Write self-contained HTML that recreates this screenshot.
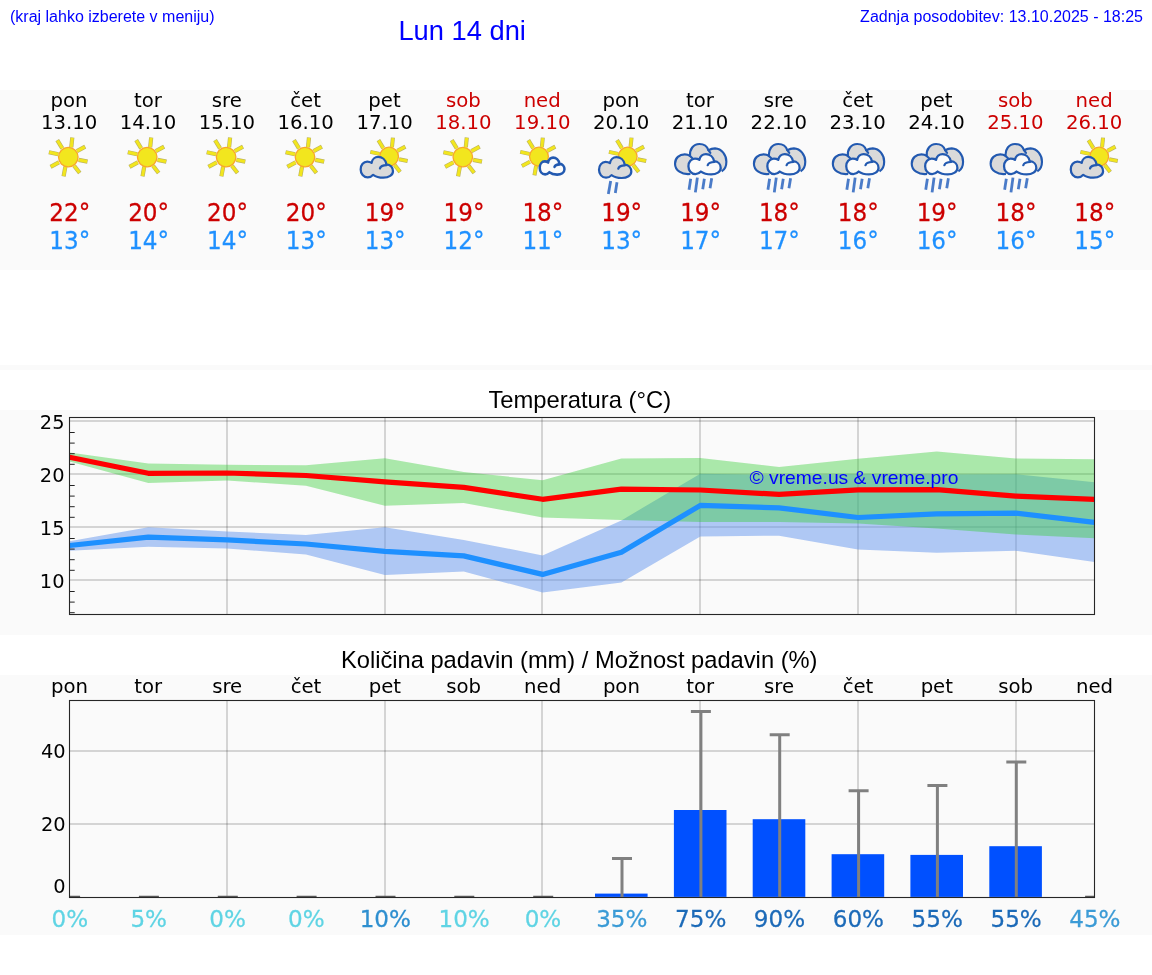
<!DOCTYPE html>
<html lang="sl"><head><meta charset="utf-8"><title>Lun 14 dni</title>
<style>
html,body{margin:0;padding:0;background:#fff;}
svg{display:block}
.dv{font-family:"DejaVu Sans","Liberation Sans",sans-serif;}
.ar{font-family:"Liberation Sans","DejaVu Sans",sans-serif;}
</style></head><body>
<svg width="1152" height="975" viewBox="0 0 1152 975">

<rect x="0" y="90" width="1152" height="180" fill="#fafafa"/>
<rect x="0" y="365" width="1152" height="5" fill="#fafafa"/>
<rect x="0" y="410" width="1152" height="225" fill="#fafafa"/>
<rect x="0" y="675" width="1152" height="260" fill="#fafafa"/>
<text class="ar" x="10" y="21.6" font-size="16" fill="#0000ff">(kraj lahko izberete v meniju)</text>
<text class="ar" x="462.2" y="39.9" font-size="27.3" fill="#0000ff" text-anchor="middle">Lun 14 dni</text>
<text class="ar" x="1143" y="21.6" font-size="16" fill="#0000ff" text-anchor="end">Zadnja posodobitev: 13.10.2025 - 18:25</text>
<text class="dv" x="69.1" y="106.5" font-size="19.7" fill="#000" text-anchor="middle">pon</text>
<text class="dv" x="69.2" y="128.7" font-size="19.7" fill="#000" text-anchor="middle">13.10</text>
<text class="dv" transform="translate(69.8,220.9) scale(1,1.04)" font-size="23.1" fill="#cc0000" stroke="#cc0000" stroke-width="0.25" text-anchor="middle">22°</text>
<text class="dv" transform="translate(69.8,248.8) scale(1,1.04)" font-size="23.1" fill="#1e90ff" stroke="#1e90ff" stroke-width="0.25" text-anchor="middle">13°</text>
<text class="dv" x="147.9" y="106.5" font-size="19.7" fill="#000" text-anchor="middle">tor</text>
<text class="dv" x="148.0" y="128.7" font-size="19.7" fill="#000" text-anchor="middle">14.10</text>
<text class="dv" transform="translate(148.6,220.9) scale(1,1.04)" font-size="23.1" fill="#cc0000" stroke="#cc0000" stroke-width="0.25" text-anchor="middle">20°</text>
<text class="dv" transform="translate(148.6,248.8) scale(1,1.04)" font-size="23.1" fill="#1e90ff" stroke="#1e90ff" stroke-width="0.25" text-anchor="middle">14°</text>
<text class="dv" x="226.8" y="106.5" font-size="19.7" fill="#000" text-anchor="middle">sre</text>
<text class="dv" x="226.9" y="128.7" font-size="19.7" fill="#000" text-anchor="middle">15.10</text>
<text class="dv" transform="translate(227.5,220.9) scale(1,1.04)" font-size="23.1" fill="#cc0000" stroke="#cc0000" stroke-width="0.25" text-anchor="middle">20°</text>
<text class="dv" transform="translate(227.5,248.8) scale(1,1.04)" font-size="23.1" fill="#1e90ff" stroke="#1e90ff" stroke-width="0.25" text-anchor="middle">14°</text>
<text class="dv" x="305.6" y="106.5" font-size="19.7" fill="#000" text-anchor="middle">čet</text>
<text class="dv" x="305.7" y="128.7" font-size="19.7" fill="#000" text-anchor="middle">16.10</text>
<text class="dv" transform="translate(306.3,220.9) scale(1,1.04)" font-size="23.1" fill="#cc0000" stroke="#cc0000" stroke-width="0.25" text-anchor="middle">20°</text>
<text class="dv" transform="translate(306.3,248.8) scale(1,1.04)" font-size="23.1" fill="#1e90ff" stroke="#1e90ff" stroke-width="0.25" text-anchor="middle">13°</text>
<text class="dv" x="384.5" y="106.5" font-size="19.7" fill="#000" text-anchor="middle">pet</text>
<text class="dv" x="384.6" y="128.7" font-size="19.7" fill="#000" text-anchor="middle">17.10</text>
<text class="dv" transform="translate(385.2,220.9) scale(1,1.04)" font-size="23.1" fill="#cc0000" stroke="#cc0000" stroke-width="0.25" text-anchor="middle">19°</text>
<text class="dv" transform="translate(385.2,248.8) scale(1,1.04)" font-size="23.1" fill="#1e90ff" stroke="#1e90ff" stroke-width="0.25" text-anchor="middle">13°</text>
<text class="dv" x="463.3" y="106.5" font-size="19.7" fill="#cc0000" text-anchor="middle">sob</text>
<text class="dv" x="463.4" y="128.7" font-size="19.7" fill="#cc0000" text-anchor="middle">18.10</text>
<text class="dv" transform="translate(464.0,220.9) scale(1,1.04)" font-size="23.1" fill="#cc0000" stroke="#cc0000" stroke-width="0.25" text-anchor="middle">19°</text>
<text class="dv" transform="translate(464.0,248.8) scale(1,1.04)" font-size="23.1" fill="#1e90ff" stroke="#1e90ff" stroke-width="0.25" text-anchor="middle">12°</text>
<text class="dv" x="542.2" y="106.5" font-size="19.7" fill="#cc0000" text-anchor="middle">ned</text>
<text class="dv" x="542.3" y="128.7" font-size="19.7" fill="#cc0000" text-anchor="middle">19.10</text>
<text class="dv" transform="translate(542.9,220.9) scale(1,1.04)" font-size="23.1" fill="#cc0000" stroke="#cc0000" stroke-width="0.25" text-anchor="middle">18°</text>
<text class="dv" transform="translate(542.9,248.8) scale(1,1.04)" font-size="23.1" fill="#1e90ff" stroke="#1e90ff" stroke-width="0.25" text-anchor="middle">11°</text>
<text class="dv" x="621.0" y="106.5" font-size="19.7" fill="#000" text-anchor="middle">pon</text>
<text class="dv" x="621.1" y="128.7" font-size="19.7" fill="#000" text-anchor="middle">20.10</text>
<text class="dv" transform="translate(621.7,220.9) scale(1,1.04)" font-size="23.1" fill="#cc0000" stroke="#cc0000" stroke-width="0.25" text-anchor="middle">19°</text>
<text class="dv" transform="translate(621.7,248.8) scale(1,1.04)" font-size="23.1" fill="#1e90ff" stroke="#1e90ff" stroke-width="0.25" text-anchor="middle">13°</text>
<text class="dv" x="699.9" y="106.5" font-size="19.7" fill="#000" text-anchor="middle">tor</text>
<text class="dv" x="700.0" y="128.7" font-size="19.7" fill="#000" text-anchor="middle">21.10</text>
<text class="dv" transform="translate(700.6,220.9) scale(1,1.04)" font-size="23.1" fill="#cc0000" stroke="#cc0000" stroke-width="0.25" text-anchor="middle">19°</text>
<text class="dv" transform="translate(700.6,248.8) scale(1,1.04)" font-size="23.1" fill="#1e90ff" stroke="#1e90ff" stroke-width="0.25" text-anchor="middle">17°</text>
<text class="dv" x="778.7" y="106.5" font-size="19.7" fill="#000" text-anchor="middle">sre</text>
<text class="dv" x="778.8" y="128.7" font-size="19.7" fill="#000" text-anchor="middle">22.10</text>
<text class="dv" transform="translate(779.4,220.9) scale(1,1.04)" font-size="23.1" fill="#cc0000" stroke="#cc0000" stroke-width="0.25" text-anchor="middle">18°</text>
<text class="dv" transform="translate(779.4,248.8) scale(1,1.04)" font-size="23.1" fill="#1e90ff" stroke="#1e90ff" stroke-width="0.25" text-anchor="middle">17°</text>
<text class="dv" x="857.6" y="106.5" font-size="19.7" fill="#000" text-anchor="middle">čet</text>
<text class="dv" x="857.7" y="128.7" font-size="19.7" fill="#000" text-anchor="middle">23.10</text>
<text class="dv" transform="translate(858.3,220.9) scale(1,1.04)" font-size="23.1" fill="#cc0000" stroke="#cc0000" stroke-width="0.25" text-anchor="middle">18°</text>
<text class="dv" transform="translate(858.3,248.8) scale(1,1.04)" font-size="23.1" fill="#1e90ff" stroke="#1e90ff" stroke-width="0.25" text-anchor="middle">16°</text>
<text class="dv" x="936.4" y="106.5" font-size="19.7" fill="#000" text-anchor="middle">pet</text>
<text class="dv" x="936.5" y="128.7" font-size="19.7" fill="#000" text-anchor="middle">24.10</text>
<text class="dv" transform="translate(937.1,220.9) scale(1,1.04)" font-size="23.1" fill="#cc0000" stroke="#cc0000" stroke-width="0.25" text-anchor="middle">19°</text>
<text class="dv" transform="translate(937.1,248.8) scale(1,1.04)" font-size="23.1" fill="#1e90ff" stroke="#1e90ff" stroke-width="0.25" text-anchor="middle">16°</text>
<text class="dv" x="1015.3" y="106.5" font-size="19.7" fill="#cc0000" text-anchor="middle">sob</text>
<text class="dv" x="1015.4" y="128.7" font-size="19.7" fill="#cc0000" text-anchor="middle">25.10</text>
<text class="dv" transform="translate(1016.0,220.9) scale(1,1.04)" font-size="23.1" fill="#cc0000" stroke="#cc0000" stroke-width="0.25" text-anchor="middle">18°</text>
<text class="dv" transform="translate(1016.0,248.8) scale(1,1.04)" font-size="23.1" fill="#1e90ff" stroke="#1e90ff" stroke-width="0.25" text-anchor="middle">16°</text>
<text class="dv" x="1094.1" y="106.5" font-size="19.7" fill="#cc0000" text-anchor="middle">ned</text>
<text class="dv" x="1094.2" y="128.7" font-size="19.7" fill="#cc0000" text-anchor="middle">26.10</text>
<text class="dv" transform="translate(1094.8,220.9) scale(1,1.04)" font-size="23.1" fill="#cc0000" stroke="#cc0000" stroke-width="0.25" text-anchor="middle">18°</text>
<text class="dv" transform="translate(1094.8,248.8) scale(1,1.04)" font-size="23.1" fill="#1e90ff" stroke="#1e90ff" stroke-width="0.25" text-anchor="middle">15°</text>
<g transform="translate(68.30,157.07) scale(1.0)"><path d="M2.99,-9.87 L3.99,-19.62" stroke="#b9b162" stroke-width="4.2" fill="none"/><path d="M2.99,-9.87 L3.95,-19.18" stroke="#f2e61e" stroke-width="3.0" fill="none"/><path d="M8.63,-5.92 L16.92,-10.36" stroke="#b9b162" stroke-width="4.2" fill="none"/><path d="M8.63,-5.92 L16.53,-10.15" stroke="#f2e61e" stroke-width="3.0" fill="none"/><path d="M10.32,2.82 L19.22,4.60" stroke="#b9b162" stroke-width="4.2" fill="none"/><path d="M10.32,2.82 L18.78,4.51" stroke="#f2e61e" stroke-width="3.0" fill="none"/><path d="M5.81,8.74 L11.45,15.86" stroke="#b9b162" stroke-width="4.2" fill="none"/><path d="M5.81,8.74 L11.17,15.51" stroke="#f2e61e" stroke-width="3.0" fill="none"/><path d="M-2.93,9.59 L-4.71,19.34" stroke="#b9b162" stroke-width="4.2" fill="none"/><path d="M-2.93,9.59 L-4.62,18.89" stroke="#f2e61e" stroke-width="3.0" fill="none"/><path d="M-9.42,5.36 L-17.71,9.80" stroke="#b9b162" stroke-width="4.2" fill="none"/><path d="M-9.42,5.36 L-17.32,9.59" stroke="#f2e61e" stroke-width="3.0" fill="none"/><path d="M-9.98,-2.82 L-19.45,-4.89" stroke="#b9b162" stroke-width="4.2" fill="none"/><path d="M-9.98,-2.82 L-19.01,-4.79" stroke="#f2e61e" stroke-width="3.0" fill="none"/><path d="M-6.03,-8.74 L-11.06,-17.02" stroke="#b9b162" stroke-width="4.2" fill="none"/><path d="M-6.03,-8.74 L-10.83,-16.64" stroke="#f2e61e" stroke-width="3.0" fill="none"/><circle r="9.75" fill="#f2e61e" stroke="#f8a72a" stroke-width="1.3"/></g>
<g transform="translate(147.20,157.07) scale(1.0)"><path d="M2.99,-9.87 L3.99,-19.62" stroke="#b9b162" stroke-width="4.2" fill="none"/><path d="M2.99,-9.87 L3.95,-19.18" stroke="#f2e61e" stroke-width="3.0" fill="none"/><path d="M8.63,-5.92 L16.92,-10.36" stroke="#b9b162" stroke-width="4.2" fill="none"/><path d="M8.63,-5.92 L16.53,-10.15" stroke="#f2e61e" stroke-width="3.0" fill="none"/><path d="M10.32,2.82 L19.22,4.60" stroke="#b9b162" stroke-width="4.2" fill="none"/><path d="M10.32,2.82 L18.78,4.51" stroke="#f2e61e" stroke-width="3.0" fill="none"/><path d="M5.81,8.74 L11.45,15.86" stroke="#b9b162" stroke-width="4.2" fill="none"/><path d="M5.81,8.74 L11.17,15.51" stroke="#f2e61e" stroke-width="3.0" fill="none"/><path d="M-2.93,9.59 L-4.71,19.34" stroke="#b9b162" stroke-width="4.2" fill="none"/><path d="M-2.93,9.59 L-4.62,18.89" stroke="#f2e61e" stroke-width="3.0" fill="none"/><path d="M-9.42,5.36 L-17.71,9.80" stroke="#b9b162" stroke-width="4.2" fill="none"/><path d="M-9.42,5.36 L-17.32,9.59" stroke="#f2e61e" stroke-width="3.0" fill="none"/><path d="M-9.98,-2.82 L-19.45,-4.89" stroke="#b9b162" stroke-width="4.2" fill="none"/><path d="M-9.98,-2.82 L-19.01,-4.79" stroke="#f2e61e" stroke-width="3.0" fill="none"/><path d="M-6.03,-8.74 L-11.06,-17.02" stroke="#b9b162" stroke-width="4.2" fill="none"/><path d="M-6.03,-8.74 L-10.83,-16.64" stroke="#f2e61e" stroke-width="3.0" fill="none"/><circle r="9.75" fill="#f2e61e" stroke="#f8a72a" stroke-width="1.3"/></g>
<g transform="translate(226.10,157.07) scale(1.0)"><path d="M2.99,-9.87 L3.99,-19.62" stroke="#b9b162" stroke-width="4.2" fill="none"/><path d="M2.99,-9.87 L3.95,-19.18" stroke="#f2e61e" stroke-width="3.0" fill="none"/><path d="M8.63,-5.92 L16.92,-10.36" stroke="#b9b162" stroke-width="4.2" fill="none"/><path d="M8.63,-5.92 L16.53,-10.15" stroke="#f2e61e" stroke-width="3.0" fill="none"/><path d="M10.32,2.82 L19.22,4.60" stroke="#b9b162" stroke-width="4.2" fill="none"/><path d="M10.32,2.82 L18.78,4.51" stroke="#f2e61e" stroke-width="3.0" fill="none"/><path d="M5.81,8.74 L11.45,15.86" stroke="#b9b162" stroke-width="4.2" fill="none"/><path d="M5.81,8.74 L11.17,15.51" stroke="#f2e61e" stroke-width="3.0" fill="none"/><path d="M-2.93,9.59 L-4.71,19.34" stroke="#b9b162" stroke-width="4.2" fill="none"/><path d="M-2.93,9.59 L-4.62,18.89" stroke="#f2e61e" stroke-width="3.0" fill="none"/><path d="M-9.42,5.36 L-17.71,9.80" stroke="#b9b162" stroke-width="4.2" fill="none"/><path d="M-9.42,5.36 L-17.32,9.59" stroke="#f2e61e" stroke-width="3.0" fill="none"/><path d="M-9.98,-2.82 L-19.45,-4.89" stroke="#b9b162" stroke-width="4.2" fill="none"/><path d="M-9.98,-2.82 L-19.01,-4.79" stroke="#f2e61e" stroke-width="3.0" fill="none"/><path d="M-6.03,-8.74 L-11.06,-17.02" stroke="#b9b162" stroke-width="4.2" fill="none"/><path d="M-6.03,-8.74 L-10.83,-16.64" stroke="#f2e61e" stroke-width="3.0" fill="none"/><circle r="9.75" fill="#f2e61e" stroke="#f8a72a" stroke-width="1.3"/></g>
<g transform="translate(305.00,157.07) scale(1.0)"><path d="M2.99,-9.87 L3.99,-19.62" stroke="#b9b162" stroke-width="4.2" fill="none"/><path d="M2.99,-9.87 L3.95,-19.18" stroke="#f2e61e" stroke-width="3.0" fill="none"/><path d="M8.63,-5.92 L16.92,-10.36" stroke="#b9b162" stroke-width="4.2" fill="none"/><path d="M8.63,-5.92 L16.53,-10.15" stroke="#f2e61e" stroke-width="3.0" fill="none"/><path d="M10.32,2.82 L19.22,4.60" stroke="#b9b162" stroke-width="4.2" fill="none"/><path d="M10.32,2.82 L18.78,4.51" stroke="#f2e61e" stroke-width="3.0" fill="none"/><path d="M5.81,8.74 L11.45,15.86" stroke="#b9b162" stroke-width="4.2" fill="none"/><path d="M5.81,8.74 L11.17,15.51" stroke="#f2e61e" stroke-width="3.0" fill="none"/><path d="M-2.93,9.59 L-4.71,19.34" stroke="#b9b162" stroke-width="4.2" fill="none"/><path d="M-2.93,9.59 L-4.62,18.89" stroke="#f2e61e" stroke-width="3.0" fill="none"/><path d="M-9.42,5.36 L-17.71,9.80" stroke="#b9b162" stroke-width="4.2" fill="none"/><path d="M-9.42,5.36 L-17.32,9.59" stroke="#f2e61e" stroke-width="3.0" fill="none"/><path d="M-9.98,-2.82 L-19.45,-4.89" stroke="#b9b162" stroke-width="4.2" fill="none"/><path d="M-9.98,-2.82 L-19.01,-4.79" stroke="#f2e61e" stroke-width="3.0" fill="none"/><path d="M-6.03,-8.74 L-11.06,-17.02" stroke="#b9b162" stroke-width="4.2" fill="none"/><path d="M-6.03,-8.74 L-10.83,-16.64" stroke="#f2e61e" stroke-width="3.0" fill="none"/><circle r="9.75" fill="#f2e61e" stroke="#f8a72a" stroke-width="1.3"/></g>
<g transform="translate(389.08,156.60) scale(0.965)"><path d="M2.99,-9.87 L3.99,-19.62" stroke="#b9b162" stroke-width="4.2" fill="none"/><path d="M2.99,-9.87 L3.95,-19.18" stroke="#f2e61e" stroke-width="3.0" fill="none"/><path d="M8.63,-5.92 L16.92,-10.36" stroke="#b9b162" stroke-width="4.2" fill="none"/><path d="M8.63,-5.92 L16.53,-10.15" stroke="#f2e61e" stroke-width="3.0" fill="none"/><path d="M10.32,2.82 L19.22,4.60" stroke="#b9b162" stroke-width="4.2" fill="none"/><path d="M10.32,2.82 L18.78,4.51" stroke="#f2e61e" stroke-width="3.0" fill="none"/><path d="M5.81,8.74 L11.45,15.86" stroke="#b9b162" stroke-width="4.2" fill="none"/><path d="M5.81,8.74 L11.17,15.51" stroke="#f2e61e" stroke-width="3.0" fill="none"/><path d="M-2.93,9.59 L-4.71,19.34" stroke="#b9b162" stroke-width="4.2" fill="none"/><path d="M-2.93,9.59 L-4.62,18.89" stroke="#f2e61e" stroke-width="3.0" fill="none"/><path d="M-9.42,5.36 L-17.71,9.80" stroke="#b9b162" stroke-width="4.2" fill="none"/><path d="M-9.42,5.36 L-17.32,9.59" stroke="#f2e61e" stroke-width="3.0" fill="none"/><path d="M-9.98,-2.82 L-19.45,-4.89" stroke="#b9b162" stroke-width="4.2" fill="none"/><path d="M-9.98,-2.82 L-19.01,-4.79" stroke="#f2e61e" stroke-width="3.0" fill="none"/><path d="M-6.03,-8.74 L-11.06,-17.02" stroke="#b9b162" stroke-width="4.2" fill="none"/><path d="M-6.03,-8.74 L-10.83,-16.64" stroke="#f2e61e" stroke-width="3.0" fill="none"/><circle r="9.75" fill="#f2e61e" stroke="#f8a72a" stroke-width="1.3"/></g>
<g transform="translate(360.68,177.71) scale(0.05208,0.05208) translate(-110,-820)"><path d="M350,765 C320,800 280,815 245,815 C165,815 110,745 110,660 C110,575 165,510 235,510 C270,510 300,520 320,535 C330,465 385,420 445,420 C520,420 588,475 603,562 C685,568 730,630 730,695 C730,770 650,820 545,820 C460,820 390,795 350,765 Z" fill="#dadada" stroke="#2259b0" stroke-width="43.2" stroke-linejoin="round"/><path d="M480,640 C490,605 540,578 610,577" fill="none" stroke="#2259b0" stroke-width="43.2" stroke-linecap="round"/></g>
<g transform="translate(462.80,157.07) scale(1.0)"><path d="M2.99,-9.87 L3.99,-19.62" stroke="#b9b162" stroke-width="4.2" fill="none"/><path d="M2.99,-9.87 L3.95,-19.18" stroke="#f2e61e" stroke-width="3.0" fill="none"/><path d="M8.63,-5.92 L16.92,-10.36" stroke="#b9b162" stroke-width="4.2" fill="none"/><path d="M8.63,-5.92 L16.53,-10.15" stroke="#f2e61e" stroke-width="3.0" fill="none"/><path d="M10.32,2.82 L19.22,4.60" stroke="#b9b162" stroke-width="4.2" fill="none"/><path d="M10.32,2.82 L18.78,4.51" stroke="#f2e61e" stroke-width="3.0" fill="none"/><path d="M5.81,8.74 L11.45,15.86" stroke="#b9b162" stroke-width="4.2" fill="none"/><path d="M5.81,8.74 L11.17,15.51" stroke="#f2e61e" stroke-width="3.0" fill="none"/><path d="M-2.93,9.59 L-4.71,19.34" stroke="#b9b162" stroke-width="4.2" fill="none"/><path d="M-2.93,9.59 L-4.62,18.89" stroke="#f2e61e" stroke-width="3.0" fill="none"/><path d="M-9.42,5.36 L-17.71,9.80" stroke="#b9b162" stroke-width="4.2" fill="none"/><path d="M-9.42,5.36 L-17.32,9.59" stroke="#f2e61e" stroke-width="3.0" fill="none"/><path d="M-9.98,-2.82 L-19.45,-4.89" stroke="#b9b162" stroke-width="4.2" fill="none"/><path d="M-9.98,-2.82 L-19.01,-4.79" stroke="#f2e61e" stroke-width="3.0" fill="none"/><path d="M-6.03,-8.74 L-11.06,-17.02" stroke="#b9b162" stroke-width="4.2" fill="none"/><path d="M-6.03,-8.74 L-10.83,-16.64" stroke="#f2e61e" stroke-width="3.0" fill="none"/><circle r="9.75" fill="#f2e61e" stroke="#f8a72a" stroke-width="1.3"/></g>
<g transform="translate(538.98,156.60) scale(0.965)"><path d="M2.99,-9.87 L3.99,-19.62" stroke="#b9b162" stroke-width="4.2" fill="none"/><path d="M2.99,-9.87 L3.95,-19.18" stroke="#f2e61e" stroke-width="3.0" fill="none"/><path d="M8.63,-5.92 L16.92,-10.36" stroke="#b9b162" stroke-width="4.2" fill="none"/><path d="M8.63,-5.92 L16.53,-10.15" stroke="#f2e61e" stroke-width="3.0" fill="none"/><path d="M10.32,2.82 L19.22,4.60" stroke="#b9b162" stroke-width="4.2" fill="none"/><path d="M10.32,2.82 L18.78,4.51" stroke="#f2e61e" stroke-width="3.0" fill="none"/><path d="M5.81,8.74 L11.45,15.86" stroke="#b9b162" stroke-width="4.2" fill="none"/><path d="M5.81,8.74 L11.17,15.51" stroke="#f2e61e" stroke-width="3.0" fill="none"/><path d="M-2.93,9.59 L-4.71,19.34" stroke="#b9b162" stroke-width="4.2" fill="none"/><path d="M-2.93,9.59 L-4.62,18.89" stroke="#f2e61e" stroke-width="3.0" fill="none"/><path d="M-9.42,5.36 L-17.71,9.80" stroke="#b9b162" stroke-width="4.2" fill="none"/><path d="M-9.42,5.36 L-17.32,9.59" stroke="#f2e61e" stroke-width="3.0" fill="none"/><path d="M-9.98,-2.82 L-19.45,-4.89" stroke="#b9b162" stroke-width="4.2" fill="none"/><path d="M-9.98,-2.82 L-19.01,-4.79" stroke="#f2e61e" stroke-width="3.0" fill="none"/><path d="M-6.03,-8.74 L-11.06,-17.02" stroke="#b9b162" stroke-width="4.2" fill="none"/><path d="M-6.03,-8.74 L-10.83,-16.64" stroke="#f2e61e" stroke-width="3.0" fill="none"/><circle r="9.75" fill="#f2e61e" stroke="#f8a72a" stroke-width="1.3"/></g>
<g transform="translate(539.74,174.58) scale(0.03990,0.04232) translate(-110,-820)"><path d="M350,765 C320,800 280,815 245,815 C165,815 110,745 110,660 C110,575 165,510 235,510 C270,510 300,520 320,535 C330,465 385,420 445,420 C520,420 588,475 603,562 C685,568 730,630 730,695 C730,770 650,820 545,820 C460,820 390,795 350,765 Z" fill="#fbfbfb" stroke="#2259b0" stroke-width="63.2" stroke-linejoin="round"/><path d="M480,640 C490,605 540,578 610,577" fill="none" stroke="#2259b0" stroke-width="63.2" stroke-linecap="round"/></g>
<g transform="translate(627.67,156.60) scale(0.965)"><path d="M2.99,-9.87 L3.99,-19.62" stroke="#b9b162" stroke-width="4.2" fill="none"/><path d="M2.99,-9.87 L3.95,-19.18" stroke="#f2e61e" stroke-width="3.0" fill="none"/><path d="M8.63,-5.92 L16.92,-10.36" stroke="#b9b162" stroke-width="4.2" fill="none"/><path d="M8.63,-5.92 L16.53,-10.15" stroke="#f2e61e" stroke-width="3.0" fill="none"/><path d="M10.32,2.82 L19.22,4.60" stroke="#b9b162" stroke-width="4.2" fill="none"/><path d="M10.32,2.82 L18.78,4.51" stroke="#f2e61e" stroke-width="3.0" fill="none"/><path d="M5.81,8.74 L11.45,15.86" stroke="#b9b162" stroke-width="4.2" fill="none"/><path d="M5.81,8.74 L11.17,15.51" stroke="#f2e61e" stroke-width="3.0" fill="none"/><path d="M-2.93,9.59 L-4.71,19.34" stroke="#b9b162" stroke-width="4.2" fill="none"/><path d="M-2.93,9.59 L-4.62,18.89" stroke="#f2e61e" stroke-width="3.0" fill="none"/><path d="M-9.42,5.36 L-17.71,9.80" stroke="#b9b162" stroke-width="4.2" fill="none"/><path d="M-9.42,5.36 L-17.32,9.59" stroke="#f2e61e" stroke-width="3.0" fill="none"/><path d="M-9.98,-2.82 L-19.45,-4.89" stroke="#b9b162" stroke-width="4.2" fill="none"/><path d="M-9.98,-2.82 L-19.01,-4.79" stroke="#f2e61e" stroke-width="3.0" fill="none"/><path d="M-6.03,-8.74 L-11.06,-17.02" stroke="#b9b162" stroke-width="4.2" fill="none"/><path d="M-6.03,-8.74 L-10.83,-16.64" stroke="#f2e61e" stroke-width="3.0" fill="none"/><circle r="9.75" fill="#f2e61e" stroke="#f8a72a" stroke-width="1.3"/></g>
<g transform="translate(599.02,178.00) scale(0.05208,0.05208) translate(-110,-820)"><path d="M350,765 C320,800 280,815 245,815 C165,815 110,745 110,660 C110,575 165,510 235,510 C270,510 300,520 320,535 C330,465 385,420 445,420 C520,420 588,475 603,562 C685,568 730,630 730,695 C730,770 650,820 545,820 C460,820 390,795 350,765 Z" fill="#dadada" stroke="#2259b0" stroke-width="43.2" stroke-linejoin="round"/><path d="M480,640 C490,605 540,578 610,577" fill="none" stroke="#2259b0" stroke-width="43.2" stroke-linecap="round"/></g>
<path d="M610.67,181.00 L608.34,194.00" stroke="#4a7bc8" stroke-width="2.8" fill="none"/><path d="M617.00,182.33 L615.34,193.00" stroke="#4a7bc8" stroke-width="2.8" fill="none"/>
<g transform="translate(668.37,135) scale(0.06667)"><path d="M330,585 C200,600 100,530 100,430 C100,345 165,290 245,290 C280,290 305,300 325,315 C315,215 375,135 465,135 C530,135 580,165 600,228 C640,205 680,200 700,200 C800,205 870,300 870,400 C870,470 840,520 800,545" fill="#dadada" stroke="#2259b0" stroke-width="32" stroke-linejoin="round"/><path d="M325,315 L368,355 M600,228 L630,268" fill="none" stroke="#2259b0" stroke-width="32" stroke-linecap="round"/></g><g transform="translate(688.44,174.33) scale(0.05208,0.05078) translate(-110,-820)"><path d="M350,765 C320,800 280,815 245,815 C165,815 110,745 110,660 C110,575 165,510 235,510 C270,510 300,520 320,535 C330,465 385,420 445,420 C520,420 588,475 603,562 C685,568 730,630 730,695 C730,770 650,820 545,820 C460,820 390,795 350,765 Z" fill="#fbfbfb" stroke="#2259b0" stroke-width="43.7" stroke-linejoin="round"/><path d="M480,640 C490,605 540,578 610,577" fill="none" stroke="#2259b0" stroke-width="43.7" stroke-linecap="round"/></g><path d="M690.70,178.67 L689.04,189.67" stroke="#4a7bc8" stroke-width="2.8" fill="none"/><path d="M697.37,177.67 L695.37,192.33" stroke="#4a7bc8" stroke-width="2.8" fill="none"/><path d="M704.37,178.67 L702.70,189.33" stroke="#4a7bc8" stroke-width="2.8" fill="none"/><path d="M711.70,178.33 L710.04,188.33" stroke="#4a7bc8" stroke-width="2.8" fill="none"/>
<g transform="translate(747.27,135) scale(0.06667)"><path d="M330,585 C200,600 100,530 100,430 C100,345 165,290 245,290 C280,290 305,300 325,315 C315,215 375,135 465,135 C530,135 580,165 600,228 C640,205 680,200 700,200 C800,205 870,300 870,400 C870,470 840,520 800,545" fill="#dadada" stroke="#2259b0" stroke-width="32" stroke-linejoin="round"/><path d="M325,315 L368,355 M600,228 L630,268" fill="none" stroke="#2259b0" stroke-width="32" stroke-linecap="round"/></g><g transform="translate(767.34,174.33) scale(0.05208,0.05078) translate(-110,-820)"><path d="M350,765 C320,800 280,815 245,815 C165,815 110,745 110,660 C110,575 165,510 235,510 C270,510 300,520 320,535 C330,465 385,420 445,420 C520,420 588,475 603,562 C685,568 730,630 730,695 C730,770 650,820 545,820 C460,820 390,795 350,765 Z" fill="#fbfbfb" stroke="#2259b0" stroke-width="43.7" stroke-linejoin="round"/><path d="M480,640 C490,605 540,578 610,577" fill="none" stroke="#2259b0" stroke-width="43.7" stroke-linecap="round"/></g><path d="M769.60,178.67 L767.94,189.67" stroke="#4a7bc8" stroke-width="2.8" fill="none"/><path d="M776.27,177.67 L774.27,192.33" stroke="#4a7bc8" stroke-width="2.8" fill="none"/><path d="M783.27,178.67 L781.60,189.33" stroke="#4a7bc8" stroke-width="2.8" fill="none"/><path d="M790.60,178.33 L788.94,188.33" stroke="#4a7bc8" stroke-width="2.8" fill="none"/>
<g transform="translate(826.17,135) scale(0.06667)"><path d="M330,585 C200,600 100,530 100,430 C100,345 165,290 245,290 C280,290 305,300 325,315 C315,215 375,135 465,135 C530,135 580,165 600,228 C640,205 680,200 700,200 C800,205 870,300 870,400 C870,470 840,520 800,545" fill="#dadada" stroke="#2259b0" stroke-width="32" stroke-linejoin="round"/><path d="M325,315 L368,355 M600,228 L630,268" fill="none" stroke="#2259b0" stroke-width="32" stroke-linecap="round"/></g><g transform="translate(846.24,174.33) scale(0.05208,0.05078) translate(-110,-820)"><path d="M350,765 C320,800 280,815 245,815 C165,815 110,745 110,660 C110,575 165,510 235,510 C270,510 300,520 320,535 C330,465 385,420 445,420 C520,420 588,475 603,562 C685,568 730,630 730,695 C730,770 650,820 545,820 C460,820 390,795 350,765 Z" fill="#fbfbfb" stroke="#2259b0" stroke-width="43.7" stroke-linejoin="round"/><path d="M480,640 C490,605 540,578 610,577" fill="none" stroke="#2259b0" stroke-width="43.7" stroke-linecap="round"/></g><path d="M848.50,178.67 L846.84,189.67" stroke="#4a7bc8" stroke-width="2.8" fill="none"/><path d="M855.17,177.67 L853.17,192.33" stroke="#4a7bc8" stroke-width="2.8" fill="none"/><path d="M862.17,178.67 L860.50,189.33" stroke="#4a7bc8" stroke-width="2.8" fill="none"/><path d="M869.50,178.33 L867.84,188.33" stroke="#4a7bc8" stroke-width="2.8" fill="none"/>
<g transform="translate(905.07,135) scale(0.06667)"><path d="M330,585 C200,600 100,530 100,430 C100,345 165,290 245,290 C280,290 305,300 325,315 C315,215 375,135 465,135 C530,135 580,165 600,228 C640,205 680,200 700,200 C800,205 870,300 870,400 C870,470 840,520 800,545" fill="#dadada" stroke="#2259b0" stroke-width="32" stroke-linejoin="round"/><path d="M325,315 L368,355 M600,228 L630,268" fill="none" stroke="#2259b0" stroke-width="32" stroke-linecap="round"/></g><g transform="translate(925.14,174.33) scale(0.05208,0.05078) translate(-110,-820)"><path d="M350,765 C320,800 280,815 245,815 C165,815 110,745 110,660 C110,575 165,510 235,510 C270,510 300,520 320,535 C330,465 385,420 445,420 C520,420 588,475 603,562 C685,568 730,630 730,695 C730,770 650,820 545,820 C460,820 390,795 350,765 Z" fill="#fbfbfb" stroke="#2259b0" stroke-width="43.7" stroke-linejoin="round"/><path d="M480,640 C490,605 540,578 610,577" fill="none" stroke="#2259b0" stroke-width="43.7" stroke-linecap="round"/></g><path d="M927.40,178.67 L925.74,189.67" stroke="#4a7bc8" stroke-width="2.8" fill="none"/><path d="M934.07,177.67 L932.07,192.33" stroke="#4a7bc8" stroke-width="2.8" fill="none"/><path d="M941.07,178.67 L939.40,189.33" stroke="#4a7bc8" stroke-width="2.8" fill="none"/><path d="M948.40,178.33 L946.74,188.33" stroke="#4a7bc8" stroke-width="2.8" fill="none"/>
<g transform="translate(983.97,135) scale(0.06667)"><path d="M330,585 C200,600 100,530 100,430 C100,345 165,290 245,290 C280,290 305,300 325,315 C315,215 375,135 465,135 C530,135 580,165 600,228 C640,205 680,200 700,200 C800,205 870,300 870,400 C870,470 840,520 800,545" fill="#dadada" stroke="#2259b0" stroke-width="32" stroke-linejoin="round"/><path d="M325,315 L368,355 M600,228 L630,268" fill="none" stroke="#2259b0" stroke-width="32" stroke-linecap="round"/></g><g transform="translate(1004.04,174.33) scale(0.05208,0.05078) translate(-110,-820)"><path d="M350,765 C320,800 280,815 245,815 C165,815 110,745 110,660 C110,575 165,510 235,510 C270,510 300,520 320,535 C330,465 385,420 445,420 C520,420 588,475 603,562 C685,568 730,630 730,695 C730,770 650,820 545,820 C460,820 390,795 350,765 Z" fill="#fbfbfb" stroke="#2259b0" stroke-width="43.7" stroke-linejoin="round"/><path d="M480,640 C490,605 540,578 610,577" fill="none" stroke="#2259b0" stroke-width="43.7" stroke-linecap="round"/></g><path d="M1006.30,178.67 L1004.64,189.67" stroke="#4a7bc8" stroke-width="2.8" fill="none"/><path d="M1012.97,177.67 L1010.97,192.33" stroke="#4a7bc8" stroke-width="2.8" fill="none"/><path d="M1019.97,178.67 L1018.30,189.33" stroke="#4a7bc8" stroke-width="2.8" fill="none"/><path d="M1027.30,178.33 L1025.64,188.33" stroke="#4a7bc8" stroke-width="2.8" fill="none"/>
<g transform="translate(1099.19,156.60) scale(0.965)"><path d="M2.99,-9.87 L3.99,-19.62" stroke="#b9b162" stroke-width="4.2" fill="none"/><path d="M2.99,-9.87 L3.95,-19.18" stroke="#f2e61e" stroke-width="3.0" fill="none"/><path d="M8.63,-5.92 L16.92,-10.36" stroke="#b9b162" stroke-width="4.2" fill="none"/><path d="M8.63,-5.92 L16.53,-10.15" stroke="#f2e61e" stroke-width="3.0" fill="none"/><path d="M10.32,2.82 L19.22,4.60" stroke="#b9b162" stroke-width="4.2" fill="none"/><path d="M10.32,2.82 L18.78,4.51" stroke="#f2e61e" stroke-width="3.0" fill="none"/><path d="M5.81,8.74 L11.45,15.86" stroke="#b9b162" stroke-width="4.2" fill="none"/><path d="M5.81,8.74 L11.17,15.51" stroke="#f2e61e" stroke-width="3.0" fill="none"/><path d="M-2.93,9.59 L-4.71,19.34" stroke="#b9b162" stroke-width="4.2" fill="none"/><path d="M-2.93,9.59 L-4.62,18.89" stroke="#f2e61e" stroke-width="3.0" fill="none"/><path d="M-9.42,5.36 L-17.71,9.80" stroke="#b9b162" stroke-width="4.2" fill="none"/><path d="M-9.42,5.36 L-17.32,9.59" stroke="#f2e61e" stroke-width="3.0" fill="none"/><path d="M-9.98,-2.82 L-19.45,-4.89" stroke="#b9b162" stroke-width="4.2" fill="none"/><path d="M-9.98,-2.82 L-19.01,-4.79" stroke="#f2e61e" stroke-width="3.0" fill="none"/><path d="M-6.03,-8.74 L-11.06,-17.02" stroke="#b9b162" stroke-width="4.2" fill="none"/><path d="M-6.03,-8.74 L-10.83,-16.64" stroke="#f2e61e" stroke-width="3.0" fill="none"/><circle r="9.75" fill="#f2e61e" stroke="#f8a72a" stroke-width="1.3"/></g>
<g transform="translate(1070.79,177.71) scale(0.05208,0.05208) translate(-110,-820)"><path d="M350,765 C320,800 280,815 245,815 C165,815 110,745 110,660 C110,575 165,510 235,510 C270,510 300,520 320,535 C330,465 385,420 445,420 C520,420 588,475 603,562 C685,568 730,630 730,695 C730,770 650,820 545,820 C460,820 390,795 350,765 Z" fill="#dadada" stroke="#2259b0" stroke-width="43.2" stroke-linejoin="round"/><path d="M480,640 C490,605 540,578 610,577" fill="none" stroke="#2259b0" stroke-width="43.2" stroke-linecap="round"/></g>
<text class="ar" x="579.8" y="408.2" font-size="23.8" fill="#000" text-anchor="middle">Temperatura (°C)</text>
<defs><clipPath id="ct"><rect x="69.5" y="417.5" width="1025" height="197"/></clipPath><clipPath id="cr"><rect x="69.5" y="700.5" width="1025" height="197"/></clipPath></defs>
<line x1="69.5" x2="1094.5" y1="580" y2="580" stroke="#000" stroke-opacity="0.15" stroke-width="2"/>
<line x1="69.5" x2="1094.5" y1="527" y2="527" stroke="#000" stroke-opacity="0.15" stroke-width="2"/>
<line x1="69.5" x2="1094.5" y1="474" y2="474" stroke="#000" stroke-opacity="0.15" stroke-width="2"/>
<line x1="69.5" x2="1094.5" y1="421" y2="421" stroke="#000" stroke-opacity="0.15" stroke-width="2"/>
<line x1="227" x2="227" y1="417.5" y2="614.5" stroke="#000" stroke-opacity="0.15" stroke-width="2"/>
<line x1="385" x2="385" y1="417.5" y2="614.5" stroke="#000" stroke-opacity="0.15" stroke-width="2"/>
<line x1="542" x2="542" y1="417.5" y2="614.5" stroke="#000" stroke-opacity="0.15" stroke-width="2"/>
<line x1="700" x2="700" y1="417.5" y2="614.5" stroke="#000" stroke-opacity="0.15" stroke-width="2"/>
<line x1="858" x2="858" y1="417.5" y2="614.5" stroke="#000" stroke-opacity="0.15" stroke-width="2"/>
<line x1="1016" x2="1016" y1="417.5" y2="614.5" stroke="#000" stroke-opacity="0.15" stroke-width="2"/>
<g clip-path="url(#ct)">
<polygon points="69.5,541.3 148.3,527.2 227.2,531.6 306.0,535.0 384.9,527.2 463.7,539.9 542.6,555.4 621.4,520.4 700.3,473.8 779.1,475.0 858.0,474.2 936.8,474.6 1015.7,474.2 1094.5,482.3 1094.5,562.0 1015.7,550.8 936.8,552.8 858.0,549.6 779.1,535.7 700.3,536.5 621.4,582.4 542.6,592.6 463.7,571.5 384.9,575.1 306.0,554.5 227.2,548.4 148.3,546.7 69.5,550.8" fill="#6495ed" fill-opacity="0.5"/>
<polygon points="69.5,452.6 148.3,463.5 227.2,464.8 306.0,465.2 384.9,458.2 463.7,472.0 542.6,480.3 621.4,458.4 700.3,458.0 779.1,466.9 858.0,458.7 936.8,451.4 1015.7,458.4 1094.5,459.2 1094.5,538.2 1015.7,534.5 936.8,528.4 858.0,523.6 779.1,521.9 700.3,521.9 621.4,519.9 542.6,517.5 463.7,502.9 384.9,505.8 306.0,485.7 227.2,480.6 148.3,483.0 69.5,461.6" fill="#32cd32" fill-opacity="0.4"/>
<polyline points="69.5,457.3 148.3,473.3 227.2,473.0 306.0,475.5 384.9,481.8 463.7,487.4 542.6,499.3 621.4,489.1 700.3,490.0 779.1,494.4 858.0,489.8 936.8,489.6 1015.7,496.1 1094.5,499.3" fill="none" stroke="#ff0000" stroke-width="5.2" stroke-linejoin="round"/>
<polyline points="69.5,545.5 148.3,537.2 227.2,539.9 306.0,544.0 384.9,551.3 463.7,555.9 542.6,574.4 621.4,552.3 700.3,505.4 779.1,507.8 858.0,517.5 936.8,513.9 1015.7,513.1 1094.5,522.4" fill="none" stroke="#1e90ff" stroke-width="5.2" stroke-linejoin="round"/>
</g>
<line x1="69.5" x2="74.7" y1="612.7" y2="612.7" stroke="#222" stroke-width="1"/>
<line x1="69.5" x2="74.7" y1="602.1" y2="602.1" stroke="#222" stroke-width="1"/>
<line x1="69.5" x2="74.7" y1="591.5" y2="591.5" stroke="#222" stroke-width="1"/>
<line x1="69.5" x2="74.7" y1="570.3" y2="570.3" stroke="#222" stroke-width="1"/>
<line x1="69.5" x2="74.7" y1="559.7" y2="559.7" stroke="#222" stroke-width="1"/>
<line x1="69.5" x2="74.7" y1="549.1" y2="549.1" stroke="#222" stroke-width="1"/>
<line x1="69.5" x2="74.7" y1="538.5" y2="538.5" stroke="#222" stroke-width="1"/>
<line x1="69.5" x2="74.7" y1="517.3" y2="517.3" stroke="#222" stroke-width="1"/>
<line x1="69.5" x2="74.7" y1="506.7" y2="506.7" stroke="#222" stroke-width="1"/>
<line x1="69.5" x2="74.7" y1="496.1" y2="496.1" stroke="#222" stroke-width="1"/>
<line x1="69.5" x2="74.7" y1="485.5" y2="485.5" stroke="#222" stroke-width="1"/>
<line x1="69.5" x2="74.7" y1="464.3" y2="464.3" stroke="#222" stroke-width="1"/>
<line x1="69.5" x2="74.7" y1="453.7" y2="453.7" stroke="#222" stroke-width="1"/>
<line x1="69.5" x2="74.7" y1="443.1" y2="443.1" stroke="#222" stroke-width="1"/>
<line x1="69.5" x2="74.7" y1="432.5" y2="432.5" stroke="#222" stroke-width="1"/>
<rect x="69.5" y="417.5" width="1025" height="197.0" fill="none" stroke="#262626" stroke-width="1.1"/>
<text class="dv" x="64.5" y="587.6" font-size="19.4" fill="#000" text-anchor="end">10</text>
<text class="dv" x="64.5" y="534.6" font-size="19.4" fill="#000" text-anchor="end">15</text>
<text class="dv" x="64.5" y="481.6" font-size="19.4" fill="#000" text-anchor="end">20</text>
<text class="dv" x="64.5" y="428.6" font-size="19.4" fill="#000" text-anchor="end">25</text>
<text class="ar" x="854" y="484" font-size="19.25" fill="#0000ff" text-anchor="middle">© vreme.us &amp; vreme.pro</text>
<text class="ar" x="579.2" y="667.5" font-size="23.7" fill="#000" text-anchor="middle">Količina padavin (mm) / Možnost padavin (%)</text>
<text class="dv" x="69.5" y="693" font-size="19.7" fill="#000" text-anchor="middle">pon</text>
<text class="dv" x="148.3" y="693" font-size="19.7" fill="#000" text-anchor="middle">tor</text>
<text class="dv" x="227.2" y="693" font-size="19.7" fill="#000" text-anchor="middle">sre</text>
<text class="dv" x="306.0" y="693" font-size="19.7" fill="#000" text-anchor="middle">čet</text>
<text class="dv" x="384.9" y="693" font-size="19.7" fill="#000" text-anchor="middle">pet</text>
<text class="dv" x="463.7" y="693" font-size="19.7" fill="#000" text-anchor="middle">sob</text>
<text class="dv" x="542.6" y="693" font-size="19.7" fill="#000" text-anchor="middle">ned</text>
<text class="dv" x="621.4" y="693" font-size="19.7" fill="#000" text-anchor="middle">pon</text>
<text class="dv" x="700.3" y="693" font-size="19.7" fill="#000" text-anchor="middle">tor</text>
<text class="dv" x="779.1" y="693" font-size="19.7" fill="#000" text-anchor="middle">sre</text>
<text class="dv" x="858.0" y="693" font-size="19.7" fill="#000" text-anchor="middle">čet</text>
<text class="dv" x="936.8" y="693" font-size="19.7" fill="#000" text-anchor="middle">pet</text>
<text class="dv" x="1015.7" y="693" font-size="19.7" fill="#000" text-anchor="middle">sob</text>
<text class="dv" x="1094.5" y="693" font-size="19.7" fill="#000" text-anchor="middle">ned</text>
<line x1="69.5" x2="1094.5" y1="824" y2="824" stroke="#000" stroke-opacity="0.15" stroke-width="2"/>
<line x1="69.5" x2="1094.5" y1="751" y2="751" stroke="#000" stroke-opacity="0.15" stroke-width="2"/>
<line x1="227" x2="227" y1="700.5" y2="897.5" stroke="#000" stroke-opacity="0.15" stroke-width="2"/>
<line x1="385" x2="385" y1="700.5" y2="897.5" stroke="#000" stroke-opacity="0.15" stroke-width="2"/>
<line x1="542" x2="542" y1="700.5" y2="897.5" stroke="#000" stroke-opacity="0.15" stroke-width="2"/>
<line x1="700" x2="700" y1="700.5" y2="897.5" stroke="#000" stroke-opacity="0.15" stroke-width="2"/>
<line x1="858" x2="858" y1="700.5" y2="897.5" stroke="#000" stroke-opacity="0.15" stroke-width="2"/>
<line x1="1016" x2="1016" y1="700.5" y2="897.5" stroke="#000" stroke-opacity="0.15" stroke-width="2"/>
<g clip-path="url(#cr)">
<rect x="595.0" y="893.6" width="52.6" height="3.3" fill="#0050ff"/>
<rect x="673.9" y="810.0" width="52.6" height="86.9" fill="#0050ff"/>
<rect x="752.7" y="819.2" width="52.6" height="77.7" fill="#0050ff"/>
<rect x="831.6" y="854.2" width="52.6" height="42.7" fill="#0050ff"/>
<rect x="910.4" y="854.9" width="52.6" height="42.0" fill="#0050ff"/>
<rect x="989.3" y="846.2" width="52.6" height="50.7" fill="#0050ff"/>
<line x1="60.1" x2="80.1" y1="896.4" y2="896.4" stroke="#5a5a5a" stroke-width="1.2"/>
<line x1="138.9" x2="158.9" y1="896.4" y2="896.4" stroke="#5a5a5a" stroke-width="1.2"/>
<line x1="217.8" x2="237.8" y1="896.4" y2="896.4" stroke="#5a5a5a" stroke-width="1.2"/>
<line x1="296.6" x2="316.6" y1="896.4" y2="896.4" stroke="#5a5a5a" stroke-width="1.2"/>
<line x1="375.5" x2="395.5" y1="896.4" y2="896.4" stroke="#5a5a5a" stroke-width="1.2"/>
<line x1="454.3" x2="474.3" y1="896.4" y2="896.4" stroke="#5a5a5a" stroke-width="1.2"/>
<line x1="533.2" x2="553.2" y1="896.4" y2="896.4" stroke="#5a5a5a" stroke-width="1.2"/>
<line x1="622.0" x2="622.0" y1="858.6" y2="896.9" stroke="#808080" stroke-width="3"/>
<line x1="612.0" x2="632.0" y1="858.6" y2="858.6" stroke="#808080" stroke-width="3"/>
<line x1="700.9" x2="700.9" y1="711.5" y2="896.9" stroke="#808080" stroke-width="3"/>
<line x1="690.9" x2="710.9" y1="711.5" y2="711.5" stroke="#808080" stroke-width="3"/>
<line x1="779.7" x2="779.7" y1="734.8" y2="896.9" stroke="#808080" stroke-width="3"/>
<line x1="769.7" x2="789.7" y1="734.8" y2="734.8" stroke="#808080" stroke-width="3"/>
<line x1="858.6" x2="858.6" y1="790.7" y2="896.9" stroke="#808080" stroke-width="3"/>
<line x1="848.6" x2="868.6" y1="790.7" y2="790.7" stroke="#808080" stroke-width="3"/>
<line x1="937.4" x2="937.4" y1="785.6" y2="896.9" stroke="#808080" stroke-width="3"/>
<line x1="927.4" x2="947.4" y1="785.6" y2="785.6" stroke="#808080" stroke-width="3"/>
<line x1="1016.3" x2="1016.3" y1="761.9" y2="896.9" stroke="#808080" stroke-width="3"/>
<line x1="1006.3" x2="1026.3" y1="761.9" y2="761.9" stroke="#808080" stroke-width="3"/>
<line x1="1085.1" x2="1105.1" y1="896.4" y2="896.4" stroke="#5a5a5a" stroke-width="1.2"/>
</g>
<rect x="69.5" y="700.5" width="1025" height="197.0" fill="none" stroke="#262626" stroke-width="1.1"/>
<text class="dv" x="65.6" y="893.0" font-size="19.4" fill="#000" text-anchor="end">0</text>
<text class="dv" x="65.6" y="831.2" font-size="19.4" fill="#000" text-anchor="end">20</text>
<text class="dv" x="65.6" y="758.2" font-size="19.4" fill="#000" text-anchor="end">40</text>
<text class="dv" transform="translate(69.9,926.5) scale(1,1.03)" font-size="23.1" fill="#5fd4e4" stroke="#5fd4e4" stroke-width="0.25" text-anchor="middle">0%</text>
<text class="dv" transform="translate(148.7,926.5) scale(1,1.03)" font-size="23.1" fill="#5fd4e4" stroke="#5fd4e4" stroke-width="0.25" text-anchor="middle">5%</text>
<text class="dv" transform="translate(227.6,926.5) scale(1,1.03)" font-size="23.1" fill="#5fd4e4" stroke="#5fd4e4" stroke-width="0.25" text-anchor="middle">0%</text>
<text class="dv" transform="translate(306.4,926.5) scale(1,1.03)" font-size="23.1" fill="#5fd4e4" stroke="#5fd4e4" stroke-width="0.25" text-anchor="middle">0%</text>
<text class="dv" transform="translate(385.3,926.5) scale(1,1.03)" font-size="23.1" fill="#2e8fd0" stroke="#2e8fd0" stroke-width="0.25" text-anchor="middle">10%</text>
<text class="dv" transform="translate(464.1,926.5) scale(1,1.03)" font-size="23.1" fill="#5fd4e4" stroke="#5fd4e4" stroke-width="0.25" text-anchor="middle">10%</text>
<text class="dv" transform="translate(543.0,926.5) scale(1,1.03)" font-size="23.1" fill="#5fd4e4" stroke="#5fd4e4" stroke-width="0.25" text-anchor="middle">0%</text>
<text class="dv" transform="translate(621.8,926.5) scale(1,1.03)" font-size="23.1" fill="#3b9bd6" stroke="#3b9bd6" stroke-width="0.25" text-anchor="middle">35%</text>
<text class="dv" transform="translate(700.7,926.5) scale(1,1.03)" font-size="23.1" fill="#1c6ab8" stroke="#1c6ab8" stroke-width="0.25" text-anchor="middle">75%</text>
<text class="dv" transform="translate(779.5,926.5) scale(1,1.03)" font-size="23.1" fill="#1c6ab8" stroke="#1c6ab8" stroke-width="0.25" text-anchor="middle">90%</text>
<text class="dv" transform="translate(858.4,926.5) scale(1,1.03)" font-size="23.1" fill="#1c6ab8" stroke="#1c6ab8" stroke-width="0.25" text-anchor="middle">60%</text>
<text class="dv" transform="translate(937.2,926.5) scale(1,1.03)" font-size="23.1" fill="#1c6ab8" stroke="#1c6ab8" stroke-width="0.25" text-anchor="middle">55%</text>
<text class="dv" transform="translate(1016.1,926.5) scale(1,1.03)" font-size="23.1" fill="#1c6ab8" stroke="#1c6ab8" stroke-width="0.25" text-anchor="middle">55%</text>
<text class="dv" transform="translate(1094.9,926.5) scale(1,1.03)" font-size="23.1" fill="#3b9bd6" stroke="#3b9bd6" stroke-width="0.25" text-anchor="middle">45%</text>
</svg></body></html>
